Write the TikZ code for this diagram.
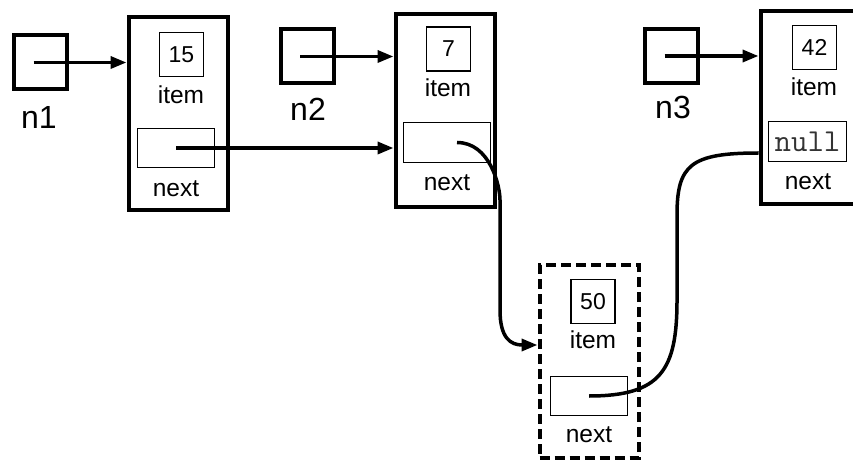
\documentclass[tikz,border=0pt]{standalone}
\usepackage{fontspec}
\setmainfont{Liberation Sans}
\usetikzlibrary{arrows.meta}

\begin{document}
\begin{tikzpicture}[x=1pt, y=1pt,
    ptr/.style={draw, line width=4pt, minimum width=53pt, minimum height=54pt, inner sep=0pt},
    frame/.style={draw, line width=4pt, minimum width=99pt, minimum height=193pt, inner sep=0pt},
    field/.style={draw, line width=1.5pt, inner sep=0pt, font=\fontsize{23}{23}\selectfont},
    lbl/.style={inner sep=0pt, font=\fontsize{24.5}{24.5}\selectfont},
    var/.style={inner sep=0pt, font=\fontsize{32}{32}\selectfont},
    link/.style={line width=3.5pt, -{Triangle[length=16pt,width=12pt]}}]
        \useasboundingbox (0, 0) rectangle (853, -462);

        % pointer variables
        \node[ptr] (p1) at (40.5, -62.5) {};
        \node[ptr] (p2) at (307, -56.5) {};
        \node[ptr] (p3) at (671.5, -56) {};
        \node[var] (v1) at (39, -117) {n1};
        \node[var] (v2) at (308, -109) {n2};
        \node[var] (v3) at (673, -107) {n3};

        % list nodes
        \node[frame] (f1) at (178, -114) {};
        \node[frame] (f2) at (445, -110.5) {};
        \node[frame] (f3) at (810, -108) {};
        \node[frame, dash pattern=on 10pt off 5pt] (f4) at (589, -361.5) {};

        \node[field, minimum width=44pt, minimum height=44pt] (i1) at (181.5, -54.5) {15};
        \node[field, minimum width=44pt, minimum height=44pt] (i2) at (448.5, -49) {7};
        \node[field, minimum width=44pt, minimum height=44pt] (i3) at (814.5, -47.5) {42};
        \node[field, minimum width=44pt, minimum height=44pt] (i4) at (593, -301.5) {50};

        \node[lbl] (t1) at (181, -95) {item};
        \node[lbl] (t2) at (448, -88) {item};
        \node[lbl] (t3) at (814, -87) {item};
        \node[lbl] (t4) at (593, -340) {item};

        \node[field, minimum width=77pt, minimum height=39pt] (x1) at (176, -148) {};
        \node[field, minimum width=87pt, minimum height=40pt] (x2) at (447, -142.5) {};
        \node[field, minimum width=78pt, minimum height=40pt, text=black!80] (x3) at (807.5, -141.5) {\ttfamily\fontsize{32}{32}\selectfont null};
        \node[field, minimum width=77pt, minimum height=39pt] (x4) at (589, -396) {};

        \node[lbl] (s1) at (176, -189) {next};
        \node[lbl] (s2) at (447, -183) {next};
        \node[lbl] (s3) at (808, -182) {next};
        \node[lbl] (s4) at (589, -435) {next};

        % references
        \draw[link] ([xshift=-7pt]p1.center) -- (p1.center -| f1.west);
        \draw[link] ([xshift=-7pt]p2.center) -- (p2.center -| f2.west);
        \draw[link] ([xshift=-7pt]p3.center) -- (p3.center -| f3.west);
        \draw[link] (x1.center) -- (x1.center -| f2.west);

        % 7 -> 50 -> 42
        \draw[link] ([xshift=10pt]x2.center) .. controls +(33, 0) and +(0, 14) .. (500, -200)
            -- (500, -310) .. controls +(0, -28) and +(-27, 0) .. ([yshift=16.5pt]f4.west);
        \draw[line width=3.5pt] (x4.center) .. controls +(72, 0) and +(0, -70) .. (677, -300)
            -- (677, -215) .. controls +(0, 50) and +(-68, 0) .. ([yshift=-45pt]f3.west);
    \end{tikzpicture}
\end{document}
